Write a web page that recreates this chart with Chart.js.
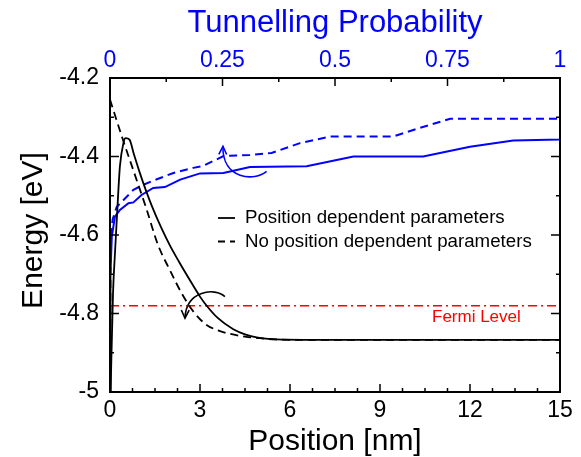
<!DOCTYPE html>
<html><head><meta charset="utf-8">
<script src="https://cdn.jsdelivr.net/npm/chart.js@4"></script>
<style>html,body{margin:0;padding:0;background:#fff;}</style>
</head><body>
<canvas id="c" width="581" height="457"></canvas>
<script>
// ---- tick labels ----
const posTicks = [0, 3, 6, 9, 12, 15];
const energyTicks = [-5, -4.8, -4.6, -4.4, -4.2];
const probTicks = [0, 0.25, 0.5, 0.75, 1];

// ---- axis titles ----
const xTitle = 'Position [nm]';
const yTitle = 'Energy [eV]';
const x2Title = 'Tunnelling Probability';

// ---- series: conduction band edge vs position ----
const seriesLabels = ['Position dependent parameters', 'No position dependent parameters'];
const solidPos    = [0.02, 0.1, 0.17, 0.28, 0.33, 0.45, 0.52, 0.65, 0.8, 1.0, 1.2, 1.4, 1.7, 2.0, 2.3, 2.6, 3.0, 3.17, 3.6, 4.11, 4.5, 4.89, 5.56, 6.5, 15];
const solidEnergy = [-5.0, -4.75, -4.64, -4.485, -4.425, -4.365, -4.353, -4.357, -4.395, -4.443, -4.487, -4.527, -4.58, -4.627, -4.668, -4.707, -4.757, -4.775, -4.812, -4.840, -4.853, -4.861, -4.866, -4.867, -4.867];
const dashedPos    = [0, 0.4, 0.8, 1.2, 1.6, 2.0, 2.4, 2.8, 3.2, 3.6, 4.0, 4.5, 5.0, 5.5, 6.0, 15];
const dashedEnergy = [-4.255, -4.35, -4.44, -4.53, -4.625, -4.69, -4.75, -4.797, -4.828, -4.843, -4.852, -4.859, -4.863, -4.866, -4.867, -4.867];

// ---- series: tunnelling probability vs energy ----
const probSolid       = [0, 0.001, 0.004, 0.011, 0.022, 0.041, 0.052, 0.07, 0.096, 0.122, 0.156, 0.2, 0.252, 0.311, 0.437, 0.541, 0.696, 0.8, 0.896, 1.0, 1.0];
const probSolidEnergy = [-5.0, -4.7, -4.604, -4.553, -4.536, -4.519, -4.517, -4.498, -4.48, -4.478, -4.459, -4.443, -4.442, -4.427, -4.425, -4.4, -4.4, -4.375, -4.359, -4.357, -4.2];
const probDashed       = [0, 0.001, 0.002, 0.006, 0.015, 0.03, 0.052, 0.074, 0.104, 0.141, 0.185, 0.207, 0.252, 0.311, 0.359, 0.422, 0.489, 0.629, 0.689, 0.756, 1.0];
const probDashedEnergy = [-5.0, -4.7, -4.596, -4.56, -4.528, -4.511, -4.485, -4.472, -4.458, -4.442, -4.429, -4.424, -4.399, -4.396, -4.391, -4.366, -4.349, -4.349, -4.327, -4.304, -4.304];

// ---- Fermi level ----
const fermiLevel = -4.78;
const fermiPos = [0, 15];
const fermiLabel = 'Fermi Level';

// ---- annotation arrows (data coordinates) ----
const bandArrow = [[3.83, -4.757], [3.5, -4.733], [2.53, -4.741], [2.5, -4.812]];
const probArrow = [[0.348, -4.438], [0.322, -4.464], [0.249, -4.459], [0.251, -4.374]];

const zip = (xs, ys) => xs.map((x, i) => ({x: x, y: ys[i]}));

const FONT = '"Liberation Sans", Arial, sans-serif';
Chart.defaults.font.family = FONT;
Chart.defaults.color = '#000';

const BLUE = '#0000ff';

const framePlugin = {
  id: 'frame',
  afterDraw(chart) {
    const {ctx, chartArea: a, scales} = chart;
    const xs = scales.x, x2 = scales.x2, ys = scales.y;
    ctx.save();
    ctx.strokeStyle = '#000';
    ctx.lineWidth = 1.5;
    ctx.beginPath();
    for (let v = 0; v <= 15.0001; v += 0.75) {
      const px = xs.getPixelForValue(v);
      const len = (Math.abs(v / 3 - Math.round(v / 3)) < 1e-6) ? 8 : 4;
      ctx.moveTo(px, a.bottom); ctx.lineTo(px, a.bottom - len);
    }
    for (let p = 0; p <= 1.0001; p += 0.125) {
      const px = x2.getPixelForValue(p);
      const len = (Math.abs(p / 0.25 - Math.round(p / 0.25)) < 1e-6) ? 8 : 4;
      ctx.moveTo(px, a.top); ctx.lineTo(px, a.top + len);
    }
    for (let k = 0; k <= 8; k++) {
      const e = -5 + k * 0.1;
      const py = ys.getPixelForValue(e);
      const len = (k % 2 === 0) ? 9 : 4;
      ctx.moveTo(a.left, py); ctx.lineTo(a.left + len, py);
      ctx.moveTo(a.right, py); ctx.lineTo(a.right - len, py);
    }
    ctx.stroke();
    ctx.lineWidth = 2;
    ctx.strokeRect(a.left, a.top, a.right - a.left, a.bottom - a.top);

    // vertical axis title (slightly above centre as in the original)
    ctx.fillStyle = '#000';
    ctx.font = '30px ' + FONT;
    ctx.textAlign = 'center';
    ctx.textBaseline = 'middle';
    ctx.translate(34, (a.top + a.bottom) / 2 - 4.5);
    ctx.rotate(-Math.PI / 2);
    ctx.fillText(yTitle, 0, 0);
    ctx.restore();
  }
};

function drawArrow(ctx, pts, color) {
  ctx.save();
  ctx.strokeStyle = color;
  ctx.lineWidth = 1.6;
  ctx.beginPath();
  ctx.moveTo(pts[0][0], pts[0][1]);
  ctx.bezierCurveTo(pts[1][0], pts[1][1], pts[2][0], pts[2][1], pts[3][0], pts[3][1]);
  ctx.stroke();
  const dx = pts[3][0] - pts[2][0], dy = pts[3][1] - pts[2][1];
  const ang = Math.atan2(dy, dx);
  const L = 9, w = 0.45;
  ctx.beginPath();
  ctx.moveTo(pts[3][0] - L * Math.cos(ang - w), pts[3][1] - L * Math.sin(ang - w));
  ctx.lineTo(pts[3][0], pts[3][1]);
  ctx.lineTo(pts[3][0] - L * Math.cos(ang + w), pts[3][1] - L * Math.sin(ang + w));
  ctx.stroke();
  ctx.restore();
}

const annotPlugin = {
  id: 'annot',
  afterDatasetsDraw(chart) {
    const {ctx, chartArea: a, scales} = chart;
    const xs = scales.x, x2 = scales.x2, ys = scales.y;
    drawArrow(ctx, bandArrow.map(p => [xs.getPixelForValue(p[0]), ys.getPixelForValue(p[1])]), '#000');
    drawArrow(ctx, probArrow.map(p => [x2.getPixelForValue(p[0]), ys.getPixelForValue(p[1])]), BLUE);

    // Fermi label
    ctx.save();
    ctx.fillStyle = '#ff0000';
    ctx.font = '17px ' + FONT;
    ctx.textBaseline = 'middle';
    ctx.textAlign = 'left';
    ctx.fillText(fermiLabel, a.left + 322, ys.getPixelForValue(fermiLevel) + 12);

    // legend
    ctx.fillStyle = '#000';
    ctx.strokeStyle = '#000';
    ctx.lineWidth = 1.8;
    ctx.font = '18.7px ' + FONT;
    const lx0 = a.left + 108, lx1 = a.left + 125, tx = a.left + 135;
    const ly = [a.top + 140, a.top + 163.5];
    ctx.beginPath(); ctx.moveTo(lx0, ly[0]); ctx.lineTo(lx1, ly[0]); ctx.stroke();
    ctx.setLineDash([7, 5]);
    ctx.beginPath(); ctx.moveTo(lx0, ly[1]); ctx.lineTo(lx1, ly[1]); ctx.stroke();
    ctx.setLineDash([]);
    ctx.fillText(seriesLabels[0], tx, ly[0]);
    ctx.fillText(seriesLabels[1], tx, ly[1]);
    ctx.restore();
  }
};

const fixTicks = (arr) => (scale) => { scale.ticks = arr.map(v => ({value: v})); };

new Chart(document.getElementById('c'), {
  type: 'line',
  data: {
    datasets: [
      {label: seriesLabels[0], data: zip(solidPos, solidEnergy), xAxisID: 'x', yAxisID: 'y',
       borderColor: '#000', borderWidth: 1.8, pointRadius: 0, cubicInterpolationMode: 'monotone', fill: false},
      {label: seriesLabels[1], data: zip(dashedPos, dashedEnergy), xAxisID: 'x', yAxisID: 'y',
       borderColor: '#000', borderWidth: 1.8, borderDash: [8, 5], pointRadius: 0, cubicInterpolationMode: 'monotone', fill: false},
      {label: 'T (position dependent)', data: zip(probSolid, probSolidEnergy), xAxisID: 'x2', yAxisID: 'y',
       borderColor: BLUE, borderWidth: 2, pointRadius: 0, tension: 0, fill: false},
      {label: 'T (no position dependence)', data: zip(probDashed, probDashedEnergy), xAxisID: 'x2', yAxisID: 'y',
       borderColor: BLUE, borderWidth: 2, borderDash: [8, 5], pointRadius: 0, tension: 0, fill: false},
      {label: fermiLabel, data: zip(fermiPos, fermiPos.map(() => fermiLevel)), xAxisID: 'x', yAxisID: 'y',
       borderColor: '#ff0000', borderWidth: 1.5, borderDash: [9, 4, 2, 4], pointRadius: 0, fill: false}
    ]
  },
  options: {
    responsive: false,
    devicePixelRatio: 1,
    animation: false,
    layout: {padding: {left: 0, right: 21, top: 0, bottom: 0}},
    plugins: {legend: {display: false}, tooltip: {enabled: false}},
    scales: {
      x: {
        type: 'linear', position: 'bottom', min: 0, max: 15,
        afterBuildTicks: fixTicks(posTicks),
        afterFit: (s) => { s.height = 65; },
        grid: {display: false, drawTicks: false},
        border: {display: false},
        ticks: {color: '#000', font: {size: 23}, padding: 5, maxRotation: 0, autoSkip: false,
                callback: (v) => String(v)},
        title: {display: true, text: xTitle, color: '#000', font: {size: 30, lineHeight: 1}, padding: {top: 0, bottom: 0}}
      },
      x2: {
        type: 'linear', position: 'top', min: 0, max: 1,
        afterBuildTicks: fixTicks(probTicks),
        afterFit: (s) => { s.height = 78; },
        grid: {display: false, drawTicks: false},
        border: {display: false},
        ticks: {color: BLUE, font: {size: 23}, padding: 4, maxRotation: 0, autoSkip: false,
                callback: (v) => String(v)},
        title: {display: true, text: x2Title, color: BLUE, font: {size: 31, lineHeight: 1}, padding: {top: 8, bottom: 0}}
      },
      y: {
        type: 'linear', position: 'left', min: -5, max: -4.2,
        afterBuildTicks: fixTicks(energyTicks),
        afterFit: (s) => { s.width = 110; },
        grid: {display: false, drawTicks: false},
        border: {display: false},
        ticks: {color: '#000', font: {size: 23}, padding: 11, autoSkip: false,
                callback: (v) => String(v)},
        title: {display: false, text: yTitle}
      }
    }
  },
  plugins: [framePlugin, annotPlugin]
});
</script>
</body></html>
